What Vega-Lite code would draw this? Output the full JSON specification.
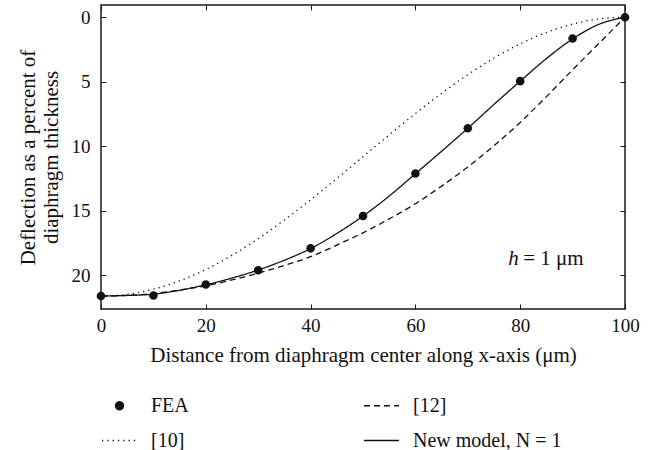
{
  "$schema": "https://vega.github.io/schema/vega-lite/v6.json",
  "width": 524,
  "height": 304,
  "autosize": {"type": "none"},
  "padding": {"left": 101, "top": 5, "right": 28, "bottom": 141},
  "background": "white",
  "config": {
    "font": "Liberation Serif",
    "view": {"stroke": "#1a1a1a", "strokeWidth": 1.5},
    "axis": {
      "grid": false,
      "domain": false,
      "ticks": true,
      "tickColor": "#1a1a1a",
      "tickSize": -5,
      "tickWidth": 1,
      "labelFont": "Liberation Serif",
      "labelFontSize": 19,
      "labelColor": "#111111",
      "titleFont": "Liberation Serif",
      "titleFontSize": 21,
      "titleFontWeight": "normal",
      "titleColor": "#111111"
    },
    "legend": {
      "orient": "none",
      "legendX": 0,
      "legendY": 382,
      "columns": 2,
      "columnPadding": 172,
      "rowPadding": 6,
      "padding": 0,
      "symbolSize": 1225,
      "symbolStrokeWidth": 1.3,
      "symbolStrokeColor": "#111111",
      "symbolFillColor": "#111111",
      "labelFont": "Liberation Serif",
      "labelFontSize": 20,
      "labelColor": "#111111",
      "labelOffset": 13,
      "labelLimit": 400
    }
  },
  "datasets": {
    "curves": [
      {"x": 0, "y": 21.6, "series": "New model, N = 1"},
      {"x": 5, "y": 21.55, "series": "New model, N = 1"},
      {"x": 10, "y": 21.45, "series": "New model, N = 1"},
      {"x": 15, "y": 21.15, "series": "New model, N = 1"},
      {"x": 20, "y": 20.72, "series": "New model, N = 1"},
      {"x": 25, "y": 20.2, "series": "New model, N = 1"},
      {"x": 30, "y": 19.58, "series": "New model, N = 1"},
      {"x": 35, "y": 18.82, "series": "New model, N = 1"},
      {"x": 40, "y": 17.92, "series": "New model, N = 1"},
      {"x": 45, "y": 16.75, "series": "New model, N = 1"},
      {"x": 50, "y": 15.4, "series": "New model, N = 1"},
      {"x": 55, "y": 13.85, "series": "New model, N = 1"},
      {"x": 60, "y": 12.12, "series": "New model, N = 1"},
      {"x": 65, "y": 10.38, "series": "New model, N = 1"},
      {"x": 70, "y": 8.6, "series": "New model, N = 1"},
      {"x": 75, "y": 6.75, "series": "New model, N = 1"},
      {"x": 80, "y": 4.95, "series": "New model, N = 1"},
      {"x": 85, "y": 3.2, "series": "New model, N = 1"},
      {"x": 90, "y": 1.68, "series": "New model, N = 1"},
      {"x": 95, "y": 0.55, "series": "New model, N = 1"},
      {"x": 100, "y": 0, "series": "New model, N = 1"},
      {"x": 0, "y": 21.6, "series": "[12]"},
      {"x": 5, "y": 21.55, "series": "[12]"},
      {"x": 10, "y": 21.4, "series": "[12]"},
      {"x": 15, "y": 21.13, "series": "[12]"},
      {"x": 20, "y": 20.8, "series": "[12]"},
      {"x": 25, "y": 20.35, "series": "[12]"},
      {"x": 30, "y": 19.82, "series": "[12]"},
      {"x": 35, "y": 19.22, "series": "[12]"},
      {"x": 40, "y": 18.55, "series": "[12]"},
      {"x": 45, "y": 17.65, "series": "[12]"},
      {"x": 50, "y": 16.7, "series": "[12]"},
      {"x": 55, "y": 15.62, "series": "[12]"},
      {"x": 60, "y": 14.45, "series": "[12]"},
      {"x": 65, "y": 13.08, "series": "[12]"},
      {"x": 70, "y": 11.6, "series": "[12]"},
      {"x": 75, "y": 9.95, "series": "[12]"},
      {"x": 80, "y": 8.15, "series": "[12]"},
      {"x": 85, "y": 6.15, "series": "[12]"},
      {"x": 90, "y": 4.07, "series": "[12]"},
      {"x": 95, "y": 2.03, "series": "[12]"},
      {"x": 100, "y": 0, "series": "[12]"},
      {"x": 0, "y": 21.6, "series": "[10]"},
      {"x": 5, "y": 21.47, "series": "[10]"},
      {"x": 10, "y": 21.07, "series": "[10]"},
      {"x": 15, "y": 20.42, "series": "[10]"},
      {"x": 20, "y": 19.54, "series": "[10]"},
      {"x": 25, "y": 18.44, "series": "[10]"},
      {"x": 30, "y": 17.15, "series": "[10]"},
      {"x": 35, "y": 15.7, "series": "[10]"},
      {"x": 40, "y": 14.14, "series": "[10]"},
      {"x": 45, "y": 12.49, "series": "[10]"},
      {"x": 50, "y": 10.8, "series": "[10]"},
      {"x": 55, "y": 9.11, "series": "[10]"},
      {"x": 60, "y": 7.46, "series": "[10]"},
      {"x": 65, "y": 5.9, "series": "[10]"},
      {"x": 70, "y": 4.45, "series": "[10]"},
      {"x": 75, "y": 3.16, "series": "[10]"},
      {"x": 80, "y": 2.06, "series": "[10]"},
      {"x": 85, "y": 1.18, "series": "[10]"},
      {"x": 90, "y": 0.53, "series": "[10]"},
      {"x": 95, "y": 0.13, "series": "[10]"},
      {"x": 100, "y": 0, "series": "[10]"}
    ],
    "fea": [
      {"x": 0, "y": 21.6, "series": "FEA"},
      {"x": 10, "y": 21.55, "series": "FEA"},
      {"x": 20, "y": 20.7, "series": "FEA"},
      {"x": 30, "y": 19.6, "series": "FEA"},
      {"x": 40, "y": 17.9, "series": "FEA"},
      {"x": 50, "y": 15.4, "series": "FEA"},
      {"x": 60, "y": 12.1, "series": "FEA"},
      {"x": 70, "y": 8.6, "series": "FEA"},
      {"x": 80, "y": 4.95, "series": "FEA"},
      {"x": 90, "y": 1.65, "series": "FEA"},
      {"x": 100, "y": 0, "series": "FEA"}
    ],
    "note": [{"label": "h"}]
  },
  "layer": [
    {
      "data": {"name": "curves"},
      "mark": {"type": "line", "interpolate": "monotone", "color": "#111111", "strokeWidth": 1.3},
      "encoding": {
        "x": {
          "field": "x", "type": "quantitative",
          "scale": {"domain": [0, 100], "nice": false, "zero": false},
          "axis": {"orient": "bottom", "values": [0, 20, 40, 60, 80, 100], "labelPadding": 12.5, "titlePadding": 9, "labelFlush": false,
                   "title": "Distance from diaphragm center along x-axis (μm)"}
        },
        "y": {
          "field": "y", "type": "quantitative",
          "scale": {"domain": [-0.95, 22.6], "reverse": true, "nice": false, "zero": false},
          "axis": {"orient": "left", "values": [0, 5, 10, 15, 20], "labelPadding": 16, "titlePadding": 10, "titleLineHeight": 23,
                   "title": ["Deflection as a percent of", "diaphragm thickness"]}
        },
        "strokeDash": {
          "field": "series", "type": "nominal",
          "scale": {"domain": ["FEA", "[10]", "[12]", "New model, N = 1"], "range": [[1, 0], [1.3, 4], [6, 4], [1, 0]]},
          "legend": {"title": null, "encode": {"symbols": {"update": {"stroke": {"value": "#111111"}, "strokeWidth": {"value": 1.3}}}}}
        }
      }
    },
    {
      "data": {"name": "fea"},
      "mark": {"type": "point", "filled": true, "color": "#111111", "opacity": 1, "size": 1400},
      "encoding": {
        "x": {
          "field": "x", "type": "quantitative",
          "axis": {"orient": "top", "values": [0, 20, 40, 60, 80, 100], "labels": false, "title": null}
        },
        "y": {
          "field": "y", "type": "quantitative",
          "axis": {"orient": "right", "values": [0, 5, 10, 15, 20], "labels": false, "title": null}
        },
        "shape": {
          "field": "series", "type": "nominal",
          "scale": {"domain": ["FEA", "[10]", "[12]", "New model, N = 1"],
                    "range": ["M-0.23,0A0.23,0.23,0,1,0,0.23,0A0.23,0.23,0,1,0,-0.23,0Z", "stroke", "stroke", "stroke"]},
          "legend": {"title": null, "encode": {"symbols": {"update": {"stroke": {"value": "#111111"}, "fill": {"value": "#111111"}, "strokeWidth": {"value": 1.3}}}}}
        }
      }
    },
    {
      "data": {"name": "note"},
      "mark": {"type": "text", "font": "Liberation Serif", "fontSize": 21, "fontStyle": "italic", "align": "left", "baseline": "alphabetic", "color": "#111111"},
      "encoding": {
        "x": {"datum": 77.7, "type": "quantitative", "axis": null},
        "y": {"datum": 19.2, "type": "quantitative", "axis": null},
        "text": {"field": "label"}
      }
    },
    {
      "data": {"name": "note"},
      "mark": {"type": "text", "font": "Liberation Serif", "fontSize": 21, "align": "left", "baseline": "alphabetic", "dx": 15, "color": "#111111"},
      "encoding": {
        "x": {"datum": 77.7, "type": "quantitative", "axis": null},
        "y": {"datum": 19.2, "type": "quantitative", "axis": null},
        "text": {"value": "= 1 μm"}
      }
    }
  ],
  "resolve": {"axis": {"x": "independent", "y": "independent"}}
}
